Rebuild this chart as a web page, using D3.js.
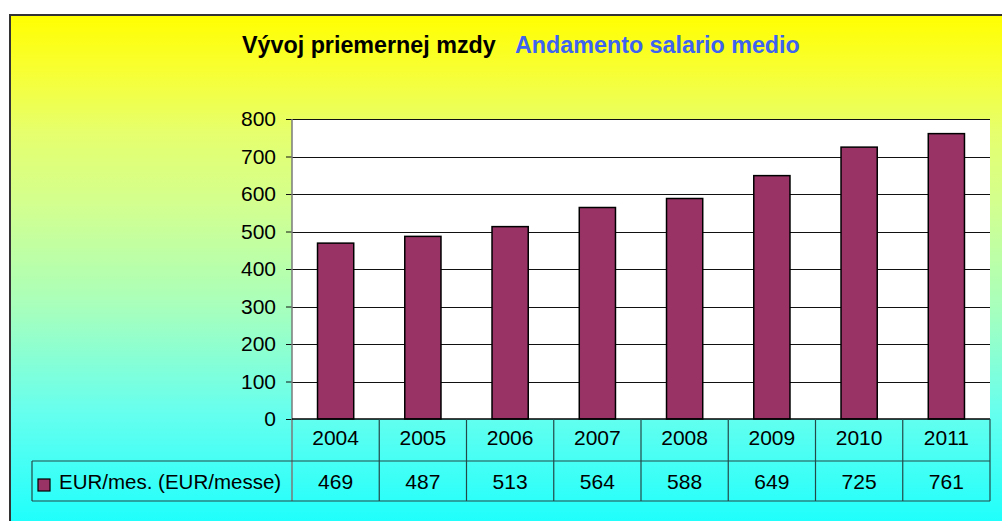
<!DOCTYPE html>
<html>
<head>
<meta charset="utf-8">
<script src="https://cdn.jsdelivr.net/npm/d3@7"></script>
<style>
  html, body { margin: 0; padding: 0; background: #fff; }
  svg { display: block; font-family: "Liberation Sans", Arial, sans-serif; }
</style>
</head>
<body>
<div id="chart"></div>
<script>
// data
const years = ["2004", "2005", "2006", "2007", "2008", "2009", "2010", "2011"];
const salary = [469, 487, 513, 564, 588, 649, 725, 761];
const yTicks = [0, 100, 200, 300, 400, 500, 600, 700, 800];
const seriesName = "EUR/mes. (EUR/messe)";
const titleSk = "Vývoj priemernej mzdy";
const titleIt = "Andamento salario medio";

const w = 1002, h = 521;
const plot = { left: 292, right: 990, top: 119, bottom: 419 };
const row1 = 461, row2 = 501, legendLeft = 32;

const svg = d3.select("#chart").append("svg")
    .attr("width", w)
    .attr("height", h);

// background gradient yellow -> cyan
const grad = svg.append("defs").append("linearGradient")
    .attr("id", "bg")
    .attr("x1", 0).attr("y1", 0).attr("x2", 0).attr("y2", 1);
[
    [0, "#ffff00"], [0.1, "#f8ff30"], [0.22, "#e6ff6c"], [0.36, "#d2ff90"],
    [0.55, "#a8ffbc"], [0.75, "#66ffee"], [1, "#10ffff"]
].forEach(([o, c]) => grad.append("stop").attr("offset", o).attr("stop-color", c));

svg.append("rect")
    .attr("x", 10).attr("y", 15)
    .attr("width", 1010).attr("height", 530)
    .attr("fill", "url(#bg)")
    .attr("stroke", "#333")
    .attr("stroke-width", 2);

// title
const title = svg.append("text")
    .attr("x", 242).attr("y", 53)
    .attr("font-size", 23.3)
    .attr("font-weight", "bold");
title.append("tspan").attr("fill", "#000").text(titleSk);
title.append("tspan").attr("fill", "#3d63f0").attr("x", 515).text(titleIt);

// scales
const xCol = d3.scaleBand().domain(years).range([plot.left, plot.right]);
const x = d3.scaleBand().domain(years).range([plot.left, plot.right])
    .paddingInner(0.585).paddingOuter(0.2925);
const y = d3.scaleLinear().domain([0, 800]).range([plot.bottom, plot.top]);

// plot area
svg.append("rect")
    .attr("x", plot.left).attr("y", plot.top)
    .attr("width", plot.right - plot.left).attr("height", plot.bottom - plot.top)
    .attr("fill", "#fff");

// gridlines
svg.append("g").selectAll("line")
    .data(yTicks.filter(d => d > 0))
    .join("line")
    .attr("x1", plot.left).attr("x2", plot.right)
    .attr("y1", d => Math.round(y(d)) + 0.5).attr("y2", d => Math.round(y(d)) + 0.5)
    .attr("stroke", "#111")
    .attr("stroke-width", 1);

// y axis
const yAxis = svg.append("g")
    .attr("transform", `translate(${plot.left},0)`)
    .call(d3.axisLeft(y).tickValues(yTicks).tickSize(6).tickPadding(10));
yAxis.select(".domain").remove();
yAxis.selectAll(".tick line").attr("stroke", "#111");
yAxis.selectAll(".tick text")
    .attr("font-size", 21)
    .attr("font-family", "\"Liberation Sans\", Arial, sans-serif")
    .attr("fill", "#000");

svg.append("line")
    .attr("x1", plot.left).attr("x2", plot.left)
    .attr("y1", plot.top).attr("y2", row2)
    .attr("stroke", "#7a7a7a").attr("stroke-width", 1.5);

// bars
svg.append("g").selectAll("rect")
    .data(years)
    .join("rect")
    .attr("x", d => x(d))
    .attr("y", (d, i) => y(salary[i]))
    .attr("width", x.bandwidth())
    .attr("height", (d, i) => y(0) - y(salary[i]))
    .attr("fill", "#993366")
    .attr("stroke", "#000")
    .attr("stroke-width", 1.5);

// data table
const table = svg.append("g").attr("stroke", "#244848").attr("stroke-width", 1.2);
table.append("line").attr("x1", plot.left).attr("x2", plot.right)
    .attr("y1", plot.bottom).attr("y2", plot.bottom).attr("stroke", "#000").attr("stroke-width", 1.5);
table.append("line").attr("x1", legendLeft).attr("x2", plot.right).attr("y1", row1).attr("y2", row1);
table.append("line").attr("x1", legendLeft).attr("x2", plot.right).attr("y1", row2).attr("y2", row2);
table.append("line").attr("x1", legendLeft).attr("x2", legendLeft).attr("y1", row1).attr("y2", row2);
table.selectAll(".col")
    .data(years)
    .join("line")
    .attr("class", "col")
    .attr("x1", d => xCol(d) + xCol.bandwidth())
    .attr("x2", d => xCol(d) + xCol.bandwidth())
    .attr("y1", plot.bottom).attr("y2", row2);

svg.append("g").selectAll("text")
    .data(years)
    .join("text")
    .attr("x", d => xCol(d) + xCol.bandwidth() / 2)
    .attr("y", 445)
    .attr("text-anchor", "middle")
    .attr("font-size", 21)
    .text(d => d);

svg.append("g").selectAll("text")
    .data(years)
    .join("text")
    .attr("x", d => xCol(d) + xCol.bandwidth() / 2)
    .attr("y", 489)
    .attr("text-anchor", "middle")
    .attr("font-size", 21)
    .text((d, i) => salary[i]);

// legend key
svg.append("rect")
    .attr("x", 38).attr("y", 479)
    .attr("width", 12).attr("height", 12)
    .attr("fill", "#993366")
    .attr("stroke", "#000")
    .attr("stroke-width", 1.2);
svg.append("text")
    .attr("x", 59).attr("y", 489)
    .attr("font-size", 20.5)
    .text(seriesName);
</script>
</body>
</html>
